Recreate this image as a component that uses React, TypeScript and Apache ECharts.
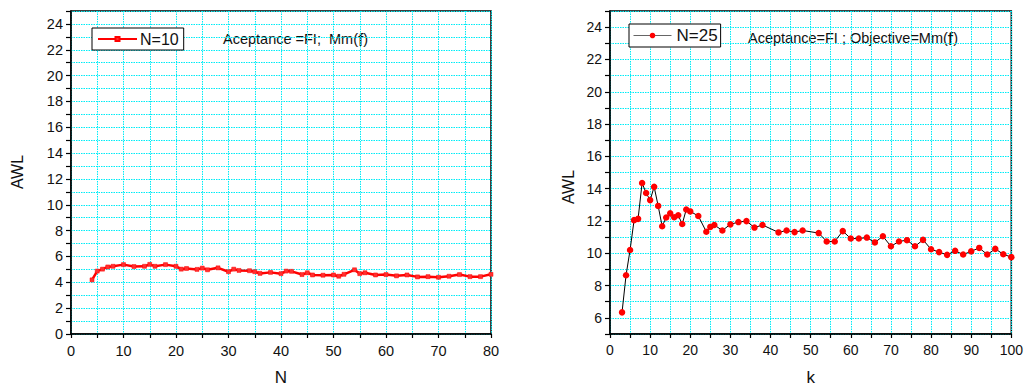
import React, { useEffect, useRef } from "react";
import * as echarts from "echarts";

// Left panel: N = 10
const leftX = [4, 5, 6, 7, 8, 10, 12, 14, 15, 16, 18, 20, 21, 22, 24, 25, 26, 28, 30, 31, 32, 34, 35, 36, 38, 40, 41, 42, 44, 45, 46, 48, 50, 51, 52, 54, 55, 56, 58, 60, 62, 64, 66, 68, 70, 72, 74, 76, 78, 80];
const leftY = [4.19, 4.87, 5.02, 5.19, 5.24, 5.37, 5.22, 5.24, 5.39, 5.24, 5.37, 5.24, 5.02, 5.07, 5.0, 5.1, 4.97, 5.12, 4.82, 5.02, 4.92, 4.9, 4.82, 4.69, 4.77, 4.67, 4.87, 4.85, 4.6, 4.74, 4.57, 4.55, 4.57, 4.47, 4.62, 4.97, 4.67, 4.74, 4.57, 4.6, 4.5, 4.57, 4.42, 4.44, 4.39, 4.47, 4.6, 4.44, 4.44, 4.62];

// Right panel: N = 25
const rightX = [3, 4, 5, 6, 7, 8, 9, 10, 11, 12, 13, 14, 15, 16, 17, 18, 19, 20, 22, 24, 25, 26, 28, 30, 32, 34, 36, 38, 42, 44, 46, 48, 52, 54, 56, 58, 60, 62, 64, 66, 68, 70, 72, 74, 76, 78, 80, 82, 84, 86, 88, 90, 92, 94, 96, 98, 100];
const rightY = [6.34, 8.64, 10.2, 12.05, 12.13, 14.35, 13.73, 13.29, 14.11, 12.93, 11.67, 12.21, 12.47, 12.23, 12.35, 11.81, 12.71, 12.59, 12.31, 11.33, 11.63, 11.75, 11.41, 11.79, 11.93, 11.99, 11.59, 11.75, 11.29, 11.41, 11.31, 11.41, 11.25, 10.73, 10.73, 11.37, 10.91, 10.91, 10.97, 10.67, 11.05, 10.43, 10.73, 10.81, 10.43, 10.83, 10.25, 10.07, 9.9, 10.15, 9.92, 10.12, 10.33, 9.92, 10.27, 9.94, 9.76];

const leftName = "N=10";
const rightName = "N=25";
const leftNote = ["Aceptance =FI;  Mm(", "f", ")"];
const rightNote = ["Aceptance=FI ; Objective=Mm(", "f", ")"];

const FONT = "'Liberation Sans', Arial, sans-serif";
const GRID_COLOR = "#00ecf6";

function xAxisOf(gridIndex: number, max: number, name: string, fs: number) {
  return {
    type: "value",
    gridIndex,
    min: 0,
    max,
    interval: 5,
    name,
    nameLocation: "middle",
    nameGap: 35,
    nameTextStyle: { fontFamily: FONT, fontSize: 17, color: "#111" },
    axisLine: { show: true, onZero: false, lineStyle: { color: "#000", width: 1.5 } },
    axisTick: { show: true, inside: false, length: 4, lineStyle: { color: "#000", width: 1.2 } },
    axisLabel: {
      fontFamily: FONT,
      fontSize: fs,
      color: "#111",
      margin: 9,
      formatter: (v: number) => (v % 10 === 0 ? String(v) : ""),
    },
    splitLine: { show: true, lineStyle: { color: GRID_COLOR, type: [1.5, 1], width: 1 } },
  };
}

function yAxisOf(gridIndex: number, min: number, fs: number) {
  return {
    type: "value",
    gridIndex,
    min,
    max: 25,
    interval: 1,
    axisLine: { show: true, onZero: false, lineStyle: { color: "#000", width: 1.5 } },
    axisTick: { show: true, inside: false, length: 5, lineStyle: { color: "#000", width: 1.2 } },
    axisLabel: {
      fontFamily: FONT,
      fontSize: fs,
      color: "#111",
      margin: 8,
      formatter: (v: number) => (v % 2 === 0 && v < 25 ? String(v) : ""),
    },
    splitLine: { show: true, lineStyle: { color: GRID_COLOR, type: [1.5, 1], width: 1 } },
  };
}

export default function App() {
  const ref = useRef<HTMLDivElement>(null);
  useEffect(() => {
    if (!ref.current) return;
    const chart = echarts.init(ref.current, undefined, { renderer: "svg" });
    const leftData = leftX.map((x, i) => [x, leftY[i]]);
    const rightData = rightX.map((x, i) => [x, rightY[i]]);
    chart.setOption({
      animation: false,
      backgroundColor: "#fff",
      grid: [
        { left: 71, top: 11, width: 420, height: 333, show: true, borderColor: "#000", borderWidth: 1.5 },
        { left: 610, top: 11, width: 406, height: 333, show: true, borderColor: "#000", borderWidth: 1.5 },
      ],
      xAxis: [xAxisOf(0, 80, "N", 14.5), xAxisOf(1, 100, "k", 14)],
      yAxis: [yAxisOf(0, 0, 14.5), yAxisOf(1, 5, 14)],
      legend: [
        {
          data: [leftName],
          left: 92,
          top: 28,
          orient: "vertical",
          backgroundColor: "#fff",
          borderColor: "#000",
          borderWidth: 1,
          borderRadius: 0,
          padding: [3, 5, 3, 5],
          itemWidth: 39,
          itemHeight: 5,
          itemGap: 0,
          textStyle: { fontFamily: FONT, fontSize: 16, color: "#111", padding: [0, 0, 0, -2] },
        },
        {
          data: [rightName],
          left: 629,
          top: 24,
          orient: "vertical",
          backgroundColor: "#fff",
          borderColor: "#000",
          borderWidth: 1,
          borderRadius: 0,
          padding: [3, 3, 3, 4],
          itemWidth: 38,
          itemHeight: 7,
          itemGap: 0,
          lineStyle: { color: "#666", width: 1 },
          textStyle: { fontFamily: FONT, fontSize: 17, color: "#111", padding: [0, 0, 0, 0] },
        },
      ],
      graphic: [
        {
          type: "text",
          x: 17,
          y: 172,
          rotation: Math.PI / 2,
          style: { text: "AWL", fontFamily: FONT, fontSize: 16, fill: "#111", align: "center", verticalAlign: "middle" },
        },
        {
          type: "text",
          x: 568,
          y: 187,
          rotation: Math.PI / 2,
          style: { text: "AWL", fontFamily: FONT, fontSize: 16, fill: "#111", align: "center", verticalAlign: "middle" },
        },
        {
          type: "text",
          x: 223,
          y: 39,
          style: {
            text: `{a|${leftNote[0]}}{b|${leftNote[1]}}{a|${leftNote[2]}}`,
            verticalAlign: "middle",
            rich: {
              a: { fontFamily: FONT, fontSize: 14.5, fill: "#111", color: "#111" },
              b: { fontFamily: FONT, fontSize: 19, fill: "#111", color: "#111" },
            },
          },
        },
        {
          type: "text",
          x: 748,
          y: 38,
          style: {
            text: `{a|${rightNote[0]}}{b|${rightNote[1]}}{a|${rightNote[2]}}`,
            verticalAlign: "middle",
            rich: {
              a: { fontFamily: FONT, fontSize: 14.5, fill: "#111", color: "#111" },
              b: { fontFamily: FONT, fontSize: 19, fill: "#111", color: "#111" },
            },
          },
        },
      ],
      series: [
        {
          name: leftName,
          type: "line",
          xAxisIndex: 0,
          yAxisIndex: 0,
          data: leftData,
          symbol: "rect",
          symbolSize: 4,
          showAllSymbol: true,
          lineStyle: { color: "#ff0000", width: 2.5 },
          itemStyle: { color: "#ff3030", borderColor: "#ff0000", borderWidth: 0.5 },
          z: 3,
        },
        {
          name: rightName,
          type: "line",
          xAxisIndex: 1,
          yAxisIndex: 1,
          data: rightData,
          symbol: "circle",
          symbolSize: 6.5,
          showAllSymbol: true,
          lineStyle: { color: "#000", width: 1 },
          itemStyle: { color: "#ff0000", borderWidth: 0 },
          z: 3,
        },
      ],
    });
    return () => chart.dispose();
  }, []);
  return (
    <div
      ref={ref}
      style={{ position: "absolute", left: 0, top: 0, width: 1026, height: 391 }}
    />
  );
}
